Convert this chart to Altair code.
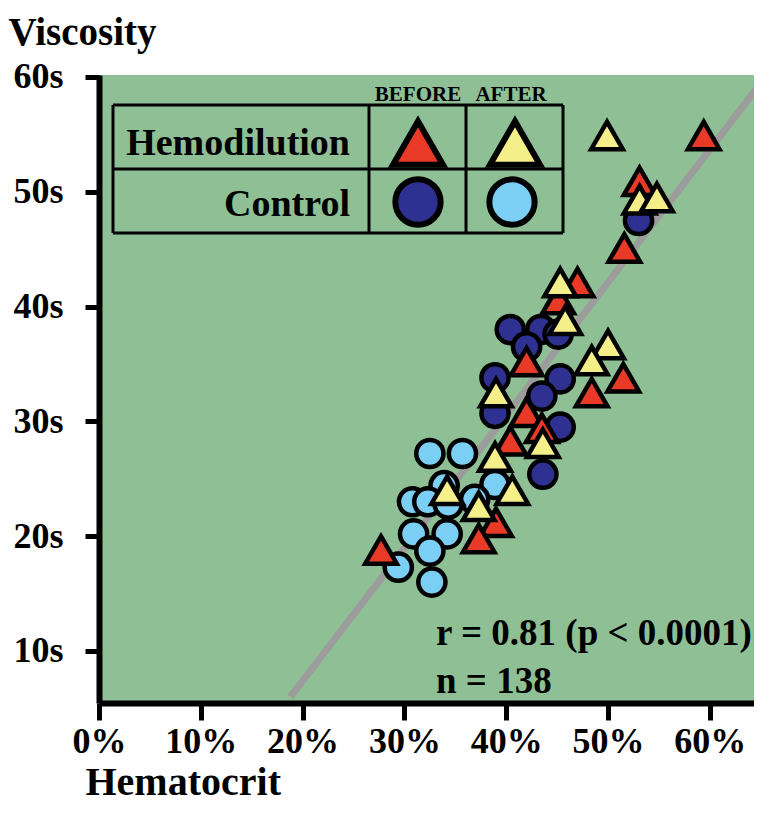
import altair as alt
import pandas as pd

# ---- data ----
# Hemodilution, before (red triangles)
hd_before_hct = [59.4, 53.1, 51.6, 47.0, 45.1, 42.0, 51.5, 48.4, 42.0, 43.5, 40.4, 39.0, 37.3, 27.7]
hd_before_visc = [54.9, 50.9, 45.1, 42.1, 40.6, 35.2, 33.8, 32.5, 30.8, 29.4, 28.3, 21.2, 19.8, 18.8]
# Hemodilution, after (yellow triangles)
hd_after_hct = [49.9, 53.1, 54.8, 45.3, 45.8, 50.0, 48.4, 39.0, 43.6, 38.9, 40.6, 34.2, 37.3]
hd_after_visc = [54.9, 49.3, 49.5, 42.1, 38.8, 36.7, 35.3, 32.5, 28.1, 26.9, 24.0, 24.0, 22.6]
# Control, before (dark blue circles)
ctl_before_hct = [53.0, 40.4, 43.4, 45.1, 42.0, 38.9, 45.3, 43.5, 38.9, 45.3, 43.6]
ctl_before_visc = [47.5, 38.0, 38.0, 37.6, 36.5, 33.8, 33.7, 32.2, 30.7, 29.5, 25.4]
# Control, after (light blue circles)
ctl_after_hct = [32.5, 35.7, 38.9, 33.9, 30.8, 32.3, 34.3, 36.9, 30.9, 34.2, 32.5, 29.4, 32.7]
ctl_after_visc = [27.2, 27.2, 24.5, 24.4, 23.0, 23.0, 22.8, 23.2, 20.2, 20.2, 18.7, 17.3, 16.0]
# regression line end points
reg_hct = [18.8, 64.6]
reg_visc = [6.0, 59.0]

x_ticks = [0, 10, 20, 30, 40, 50, 60]
y_ticks = [10, 20, 30, 40, 50, 60]

stat_text = ["r = 0.81 (p < 0.0001)", "n = 138"]
legend_rows = ["Hemodilution", "Control"]
legend_cols = ["BEFORE", "AFTER"]

# ---- styling ----
FONT = "Liberation Serif"
RED = "#e83a26"
YELLOW = "#f5ef8a"
DARK = "#2e3192"
LIGHT = "#7ccff4"
BG = "#8fc095"

W, H = 655, 628
xscale = alt.Scale(domain=[0, 64.34], nice=False, zero=False)
yscale = alt.Scale(domain=[5.47, 60.17], nice=False, zero=False)

x_axis = alt.Axis(values=x_ticks, labelExpr="datum.value + '%'", title="Hematocrit",
                  grid=False, domainColor="black", domainWidth=6, tickColor="black",
                  tickWidth=5, tickSize=17, labelFont=FONT, labelFontWeight="bold",
                  labelFontSize=36, labelColor="black", labelPadding=4, labelFlush=False,
                  labelOverlap=False, titleFont=FONT, titleFontWeight="bold", titleFontSize=40,
                  titleColor="black", titleX=-14, titleY=91, titleAlign="left",
                  titleBaseline="alphabetic")
y_axis = alt.Axis(values=y_ticks, labelExpr="datum.value + 's'", title="Viscosity",
                  grid=False, domainColor="black", domainWidth=6, tickColor="black",
                  tickWidth=5, tickSize=14, labelFont=FONT, labelFontWeight="bold",
                  labelFontSize=36, labelColor="black", labelPadding=22, labelFlush=False,
                  labelOverlap=False, titleFont=FONT, titleFontWeight="bold", titleFontSize=39,
                  titleColor="black", titleAngle=0, titleX=-91, titleY=-31, titleAlign="left",
                  titleBaseline="alphabetic")


def xenc():
    return alt.X("hct:Q", scale=xscale, axis=x_axis)


def yenc():
    return alt.Y("visc:Q", scale=yscale, axis=y_axis)


reg = alt.Chart(pd.DataFrame({"hct": reg_hct, "visc": reg_visc})).mark_line(
    color="#9c9c9c", strokeWidth=7, clip=True).encode(x=xenc(), y=yenc())


def pts(hct, visc, shape, fill, size):
    df = pd.DataFrame({"hct": hct, "visc": visc})
    return alt.Chart(df).mark_point(shape=shape, filled=True, fill=fill, stroke="black",
                                    strokeWidth=4.5, size=size, opacity=1,
                                    strokeOpacity=1).encode(x=xenc(), y=yenc())


l_ctl_after = pts(ctl_after_hct, ctl_after_visc, "circle", LIGHT, 740)
l_ctl_before = pts(ctl_before_hct, ctl_before_visc, "circle", DARK, 740)
l_hd_before = pts(hd_before_hct, hd_before_visc, "triangle-up", RED, 1000)
l_hd_after = pts(hd_after_hct, hd_after_visc, "triangle-up", YELLOW, 1000)

# ---- legend table (pixel space inside the plot area) ----
seg = pd.DataFrame({
    "x": [14, 14, 14, 14, 464, 270, 367],
    "x2": [464, 464, 464, 14, 464, 270, 367],
    "y": [30, 94, 158, 30, 30, 30, 30],
    "y2": [30, 94, 158, 158, 158, 158, 158],
})
table = alt.Chart(seg).mark_rule(color="black", strokeWidth=3).encode(
    x=alt.X("x:Q", scale=None), x2="x2:Q", y=alt.Y("y:Q", scale=None), y2="y2:Q")

leg_sym = pd.DataFrame({
    "x": [319, 416, 319, 413],
    "y": [68, 68, 127, 127],
    "shape": ["triangle-up", "triangle-up", "circle", "circle"],
    "fill": [RED, YELLOW, DARK, LIGHT],
    "size": [2500, 2500, 2050, 2050],
})
leg_marks = alt.Chart(leg_sym).mark_point(filled=True, stroke="black", strokeWidth=6,
                                          opacity=1, strokeOpacity=1).encode(
    x=alt.X("x:Q", scale=None), y=alt.Y("y:Q", scale=None),
    shape=alt.Shape("shape:N", scale=None), fill=alt.Fill("fill:N", scale=None),
    size=alt.Size("size:Q", scale=None))

row_df = pd.DataFrame({"t": legend_rows, "x": [251, 251], "y": [80, 141]})
row_text = alt.Chart(row_df).mark_text(font=FONT, fontWeight="bold", fontSize=38,
                                       align="right", baseline="alphabetic",
                                       color="black").encode(
    x=alt.X("x:Q", scale=None), y=alt.Y("y:Q", scale=None), text="t:N")

col_df = pd.DataFrame({"t": legend_cols, "x": [319, 412], "y": [26, 26]})
col_text = alt.Chart(col_df).mark_text(font=FONT, fontWeight="bold", fontSize=21,
                                       align="center", baseline="alphabetic",
                                       color="black").encode(
    x=alt.X("x:Q", scale=None), y=alt.Y("y:Q", scale=None), text="t:N")

stat_df = pd.DataFrame({"t": stat_text, "x": [337, 337], "y": [570, 618]})
stats = alt.Chart(stat_df).mark_text(font=FONT, fontWeight="bold", fontSize=37,
                                     align="left", baseline="alphabetic",
                                     color="black").encode(
    x=alt.X("x:Q", scale=None), y=alt.Y("y:Q", scale=None), text="t:N")

chart = alt.layer(reg, l_ctl_after, l_ctl_before, l_hd_before, l_hd_after,
                  table, leg_marks, row_text, col_text, stats).properties(
    width=W, height=H,
    autosize=alt.AutoSizeParams(type="none"),
    padding={"left": 91, "top": 67, "right": 0, "bottom": 101},
    background="white",
).configure_view(fill=BG, strokeWidth=0)

chart.save("out.html", embed_options={"renderer": "svg", "actions": False})
